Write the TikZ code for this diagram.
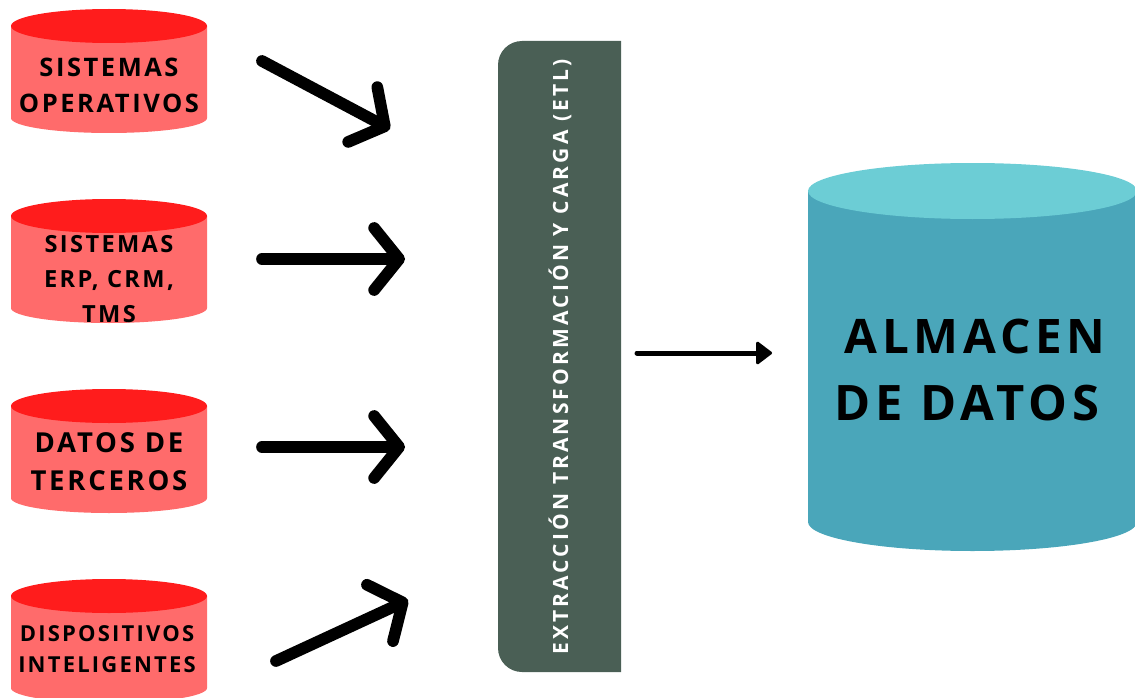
\documentclass[tikz,border=0pt]{standalone}
\usepackage{fontspec}
\setmainfont{Open Sans}[BoldFont={Open Sans Bold}]
\newfontfamily\lblfont{Open Sans Bold}[LetterSpace=10]
\newfontfamily\etlfont{Open Sans Bold}[LetterSpace=15]
\usetikzlibrary{arrows.meta}
\definecolor{redtop}{HTML}{FF1C1C}
\definecolor{redbody}{HTML}{FF6B6B}
\definecolor{tealtop}{HTML}{6CCDD5}
\definecolor{tealbody}{HTML}{4AA6BA}
\definecolor{etlgreen}{HTML}{4A5F55}
\tikzset{
  x=1pt,y=-1pt,
  dblabel/.style={align=center,inner sep=0pt,text=black,font=\lblfont},
  bigarrow/.style={line width=11.7pt,line cap=round,line join=round,-{Straight Barb[round,length=25pt,width=62pt]}},
  thinarrow/.style={line width=5pt,line cap=round,-{Triangle[round,length=17pt,width=25pt,line width=3pt]}},
}
% cylinder: left x, right x, y of top ellipse centre, top radius, y of bottom side, bottom radius, colours
\newcommand{\dbdraw}[8]{%
  \path[fill=#7] (#1,#3) -- (#1,#5) arc[start angle=180,end angle=360,x radius={(#2-#1)/2},y radius=-#6] -- (#2,#3) -- cycle;
  \path[fill=#8] ({(#1+#2)/2},#3) ellipse[x radius={(#2-#1)/2},y radius=#4];
}
\begin{document}
\begin{tikzpicture}
\useasboundingbox (0,0) rectangle (1135,698);
\clip (0,0) rectangle (1135,698);
\dbdraw{11}{207}{26}{17}{118}{15}{redbody}{redtop}
\dbdraw{11}{207}{216}{17}{308}{15}{redbody}{redtop}
\dbdraw{11}{207}{406}{17}{498}{15}{redbody}{redtop}
\dbdraw{11}{207}{596}{17}{688}{15}{redbody}{redtop}
\dbdraw{808}{1137}{191}{28}{522}{29}{tealbody}{tealtop}
\node[dblabel,font=\lblfont\fontsize{25.5}{36}\selectfont] (l1) at (109,85) {SISTEMAS\\OPERATIVOS};
\node[dblabel,font=\lblfont\fontsize{23.6}{34.7}\selectfont] (l2) at (109,279) {SISTEMAS\\ERP, CRM,\\TMS};
\node[dblabel,font=\lblfont\fontsize{27.5}{38}\selectfont] (l3) at (109,462) {DATOS DE\\TERCEROS};
\node[dblabel,font=\lblfont\fontsize{22}{31}\selectfont] (l4) at (107,649) {DISPOSITIVOS\\INTELIGENTES};
\node[dblabel,font=\lblfont\fontsize{47.6}{67}\selectfont] (l5) at (970,370.5) {\hspace*{10pt}ALMACEN\\{\fontsize{48.9}{67}\selectfont DE DATOS}\hspace*{6pt}};
\path[fill=etlgreen] (621,41) -- (522,41) arc[start angle=90,end angle=180,x radius=24,y radius=-24] -- (498,648) arc[start angle=180,end angle=270,x radius=24,y radius=-24] -- (621,672) -- cycle;
\node[rotate=90,inner sep=0pt,text=white,font=\etlfont\fontsize{21}{26}\selectfont] (etl) at (560,357) {EXTRACCIÓN TRANSFORMACIÓN Y CARGA (ETL)};
\coordinate (a1s) at (262,61); \coordinate (a1e) at (390,129);
\coordinate (a2s) at (262,259); \coordinate (a2e) at (405,259);
\coordinate (a3s) at (262,447); \coordinate (a3e) at (405,447);
\coordinate (a4s) at (276,661); \coordinate (a4e) at (408,600);
\coordinate (a5s) at (637,353); \coordinate (a5e) at (772,353);
\draw[bigarrow] (a1s) -- (a1e);
\draw[bigarrow] (a2s) -- (a2e);
\draw[bigarrow] (a3s) -- (a3e);
\draw[bigarrow] (a4s) -- (a4e);
\draw[thinarrow] (a5s) -- (a5e);
\end{tikzpicture}
\end{document}
